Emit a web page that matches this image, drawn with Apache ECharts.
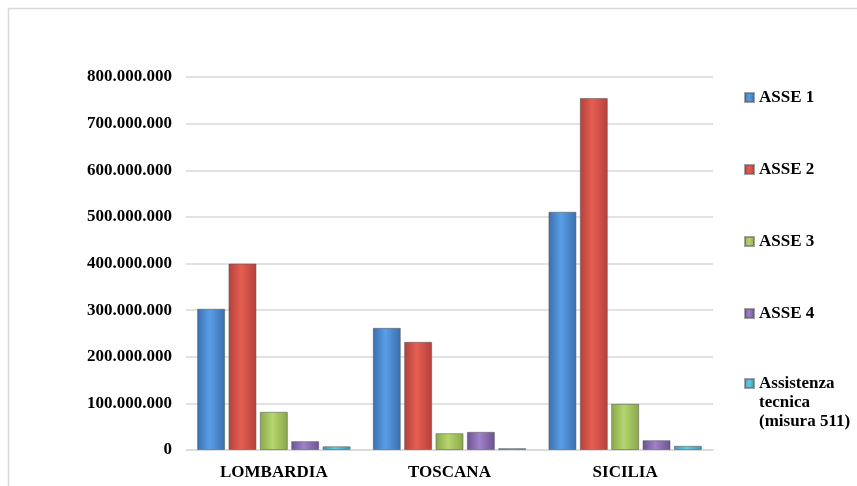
<!DOCTYPE html>
<html>
<head>
<meta charset="utf-8">
<style>
  html, body { margin: 0; padding: 0; background: #ffffff; }
  #chart { width: 857px; height: 486px; }
</style>
<script src="https://cdn.jsdelivr.net/npm/echarts@6/dist/echarts.min.js"></script>
</head>
<body>
<div id="chart"></div>
<script>
// Regions on the category axis
const regions = ['LOMBARDIA', 'TOSCANA', 'SICILIA'];

// Funding per axis (euro)
const asse1 = [303000000, 262000000, 511000000];
const asse2 = [400000000, 232000000, 755000000];
const asse3 = [82000000, 36000000, 99000000];
const asse4 = [19000000, 39000000, 21000000];
const assistenza = [8000000, 4000000, 9000000];

const seriesNames = ['ASSE 1', 'ASSE 2', 'ASSE 3', 'ASSE 4', 'Assistenza\ntecnica\n(misura 511)'];
const seriesValues = [asse1, asse2, asse3, asse4, assistenza];

// Value axis ticks
const yMin = 0;
const yMax = 800000000;
const yStep = 100000000;

// Glossy fills: darker edges, lighter centre
const palette = [
  ['#3a6eae', '#5a9ee6', '#3a6eae'],
  ['#b3413a', '#e55e52', '#b3413a'],
  ['#8aa84a', '#b5d56d', '#8aa84a'],
  ['#6b5290', '#9f82c8', '#6b5290'],
  ['#3a98b3', '#66c8e4', '#3a98b3']
];

function gloss(c) {
  return new echarts.graphic.LinearGradient(0, 0, 1, 0, [
    { offset: 0, color: c[0] },
    { offset: 0.45, color: c[1] },
    { offset: 1, color: c[2] }
  ]);
}

function dotted(v) {
  return String(Math.round(v)).replace(/\B(?=(\d{3})+(?!\d))/g, '.');
}

const serifBold = {
  fontFamily: '"Liberation Serif", "Times New Roman", serif',
  fontWeight: 'bold',
  fontSize: 17,
  color: '#000000'
};

const series = seriesNames.map((name, i) => ({
  name: name,
  type: 'bar',
  data: seriesValues[i],
  barWidth: 28,
  barGap: '12%',
  itemStyle: {
    color: gloss(palette[i]),
    borderColor: 'rgba(90,90,90,0.55)',
    borderWidth: 1
  },
  emphasis: { disabled: true }
}));

const chart = echarts.init(document.getElementById('chart'), null, { renderer: 'canvas' });

chart.setOption({
  animation: false,
  backgroundColor: '#ffffff',
  graphic: [{
    type: 'rect',
    shape: { x: 8.5, y: 8.5, width: 900, height: 520 },
    style: { fill: 'none', stroke: '#d9d9d9', lineWidth: 1.5 },
    silent: true,
    z: -1
  }],
  grid: { left: 186, right: 144, top: 77, bottom: 36, containLabel: false },
  legend: [
    {
      data: seriesNames.slice(0, 4).map((n, i) => ({ name: n, itemStyle: { color: gloss(palette[i]) } })),
      orient: 'vertical',
      left: 744,
      top: 89,
      padding: 0,
      icon: 'rect',
      itemWidth: 9,
      itemHeight: 9,
      itemGap: 55,
      textStyle: Object.assign({}, serifBold, { lineHeight: 16 }),
      selectedMode: false
    },
    {
      // multi-line entry: two blank lines on top keep the swatch beside the first line
      data: [{ name: seriesNames[4], itemStyle: { color: gloss(palette[4]) } }],
      formatter: (n) => '\n\n' + n,
      orient: 'vertical',
      left: 744,
      top: 336,
      padding: 0,
      icon: 'rect',
      itemWidth: 9,
      itemHeight: 9,
      textStyle: Object.assign({}, serifBold, { lineHeight: 19 }),
      selectedMode: false
    }
  ],
  xAxis: {
    type: 'category',
    data: regions,
    axisTick: { show: false },
    axisLine: { show: true, lineStyle: { color: '#d9d9d9', width: 1.5 } },
    axisLabel: Object.assign({}, serifBold, { margin: 14 })
  },
  yAxis: {
    type: 'value',
    min: yMin,
    max: yMax,
    interval: yStep,
    axisLine: { show: false },
    axisTick: { show: false },
    splitLine: { lineStyle: { color: '#d9d9d9', width: 1.5 } },
    axisLabel: Object.assign({}, serifBold, { margin: 14, formatter: dotted })
  },
  series: series
});
</script>
</body>
</html>
